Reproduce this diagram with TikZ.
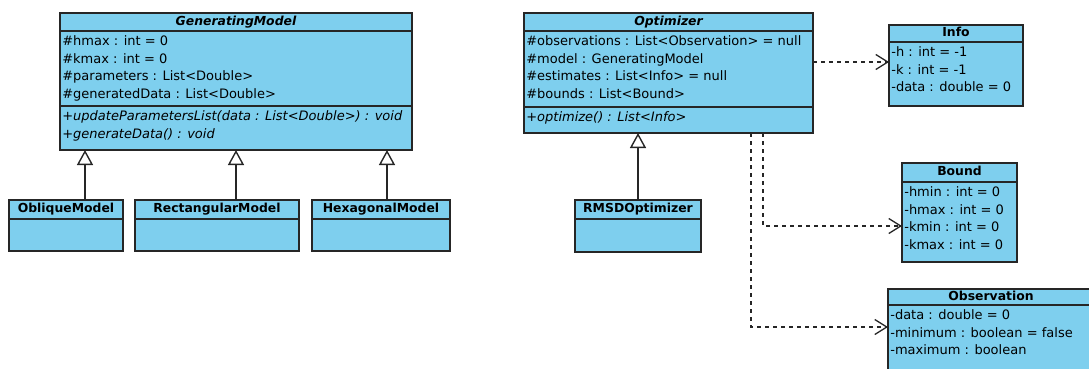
\documentclass[tikz,border=0pt]{standalone}
\usepackage{fontspec}
\setmainfont{DejaVu Sans}
\usetikzlibrary{arrows.meta}
\definecolor{umlblue}{RGB}{126,207,238}
\definecolor{umlline}{RGB}{38,38,38}

\begin{document}
\begin{tikzpicture}[x=1pt, y=-1pt, >={Straight Barb[length=12pt, width=15pt]},
                    semithick]
\tikzstyle{box}=[draw=umlline, fill=umlblue, line width=1.4pt,
                    anchor=north west, inner sep=0pt, outer sep=0pt]
\tikzstyle{title}=[box, font=\fontsize{12.4}{17.5}\selectfont\bfseries,
                    text height=9pt, text depth=2.5pt]
\tikzstyle{members}=[anchor=north west, align=left, inner xsep=2pt,
                    inner ysep=4.5pt, font=\fontsize{13}{17.5}\selectfont]
\tikzstyle{ops}=[members, font=\fontsize{13}{18}\selectfont\itshape]
\tikzstyle{gen}=[draw=umlline, line width=1.4pt,
                    -{Triangle[open, length=15pt, width=16pt]}]
\tikzstyle{dep}=[draw=umlline, line width=1.3pt, dash pattern=on 4pt off 4pt, ->]

  \clip (0,0) rectangle (1089,368);

  % GeneratingModel and its subclasses
  \node[title, minimum width=352pt, minimum height=18pt] (gm) at (60,13) {\itshape GeneratingModel};
  \node[box, minimum width=352pt, minimum height=75pt] (gmA) at (gm.south west) {};
  \node[box, minimum width=352pt, minimum height=44pt] (gmO) at (gmA.south west) {};
  \node[members] (gmAt) at (gmA.north west) {\#hmax : int = 0\\\#kmax : int = 0\\
    \#parameters : List<Double>\\\#generatedData : List<Double>};
  \node[ops] (gmOt) at (gmO.north west) {+updateParametersList(data : List<Double>) : void\\
    +generateData() : void};

  \node[title, minimum width=114pt, minimum height=19pt] (ob) at (9,200) {ObliqueModel};
  \node[box, minimum width=114pt, minimum height=32pt] (obB) at (ob.south west) {};
  \node[title, minimum width=164pt, minimum height=19pt] (rect) at (135,200) {RectangularModel};
  \node[box, minimum width=164pt, minimum height=32pt] (rectB) at (rect.south west) {};
  \node[title, minimum width=138pt, minimum height=19pt] (hex) at (312,200) {HexagonalModel};
  \node[box, minimum width=138pt, minimum height=32pt] (hexB) at (hex.south west) {};

  % Optimizer
  \node[title, minimum width=289pt, minimum height=18pt] (opt) at (524,13) {\itshape Optimizer};
  \node[box, minimum width=289pt, minimum height=76pt] (optA) at (opt.south west) {};
  \node[box, minimum width=289pt, minimum height=26pt] (optO) at (optA.south west) {};
  \node[members] (optAt) at (optA.north west) {\#observations : List<Observation> = null\\
    \#model : GeneratingModel\\\#estimates : List<Info> = null\\\#bounds : List<Bound>};
  \node[ops] (optOt) at (optO.north west) {+optimize() : List<Info>};

  \node[title, minimum width=126pt, minimum height=19pt] (rmsd) at (575,200) {RMSDOptimizer};
  \node[box, minimum width=126pt, minimum height=33pt] (rmsdB) at (rmsd.south west) {};

  % value classes
  \node[title, minimum width=134pt, minimum height=17pt] (info) at (889,25) {Info};
  \node[box, minimum width=134pt, minimum height=64pt] (infoA) at (info.south west) {};
  \node[members] (infoAt) at (infoA.north west) {-h : int = -1\\-k : int = -1\\-data : double = 0};

  \node[title, minimum width=115pt, minimum height=19pt] (bound) at (902,163) {Bound};
  \node[box, minimum width=115pt, minimum height=80pt] (boundA) at (bound.south west) {};
  \node[members] (boundAt) at (boundA.north west) {-hmin : int = 0\\-hmax : int = 0\\
    -kmin : int = 0\\-kmax : int = 0};

  \node[title, minimum width=206pt, minimum height=16pt] (obs) at (888,289) {Observation};
  \node[box, minimum width=206pt, minimum height=80pt] (obsA) at (obs.south west) {};
  \node[members] (obsAt) at (obsA.north west) {-data : double = 0\\
    -minimum : boolean = false\\-maximum : boolean};

  % generalizations
  \coordinate (gmL) at ([xshift=25pt]gmO.south west);
  \coordinate (gmR) at ([xshift=-25pt]gmO.south east);
  \draw[gen] (ob.north -| gmL) -- (gmL);
  \draw[gen] (rect.north -| gmO.south) -- (gmO.south);
  \draw[gen] (hex.north -| gmR) -- (gmR);
  \draw[gen] (rmsd.north) -- (rmsd.north |- optO.south);

  % dependencies
  \coordinate (infoIn) at ([yshift=-20pt]infoA.north west);
  \coordinate (optB) at ([xshift=-50pt]optO.south east);
  \coordinate (boundIn) at ([yshift=-44pt]boundA.north west);
  \coordinate (optC) at ([xshift=-62pt]optO.south east);
  \coordinate (obsIn) at ([yshift=-22pt]obsA.north west);
  \draw[dep] (optA.east |- infoIn) -- (infoIn);
  \draw[dep] (optB) |- (boundIn);
  \draw[dep] (optC) |- (obsIn);
\end{tikzpicture}
\end{document}
